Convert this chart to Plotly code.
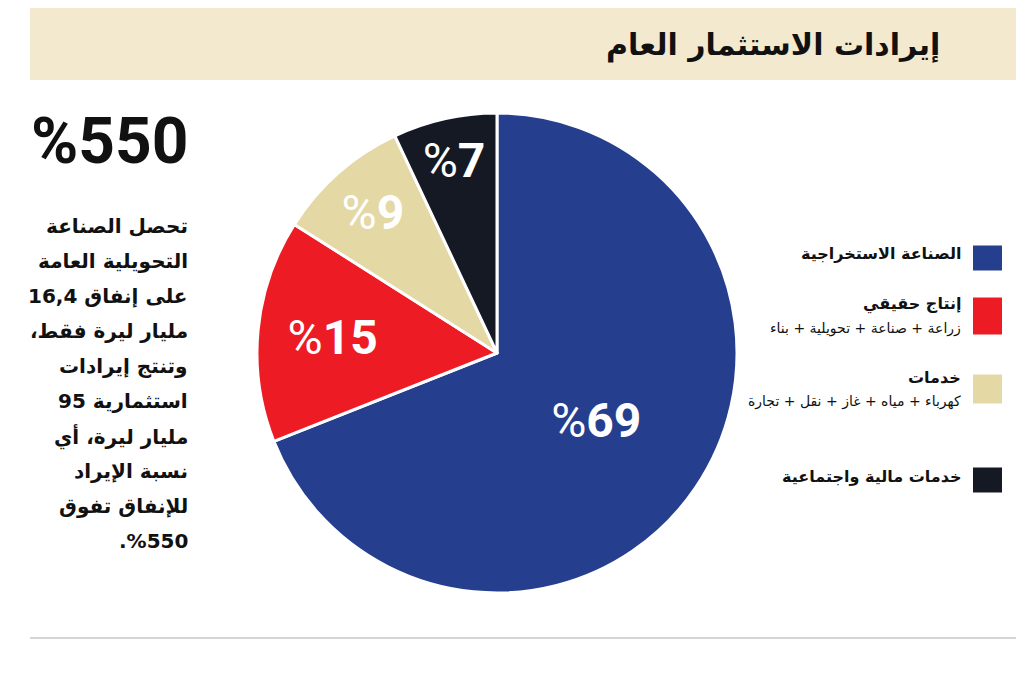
import plotly.graph_objects as go

# data
sectors = ["الصناعة الاستخراجية", "إنتاج حقيقي", "خدمات", "خدمات مالية واجتماعية"]
sector_notes = ["", "زراعة + صناعة + تحويلية + بناء", "كهرباء + مياه + غاز + نقل + تجارة", ""]
shares = [69, 15, 9, 7]
colors = ["#253F8E", "#ED1C24", "#E4D8A5", "#151924"]

title_text = "إيرادات الاستثمار العام"
headline = "%550"
body_lines = [
    "تحصل الصناعة",
    "التحويلية العامة",
    "على إنفاق 16,4",
    "مليار ليرة فقط،\u200f",
    "وتنتج إيرادات",
    "استثمارية 95",
    "مليار ليرة، أي",
    "نسبة الإيراد",
    "للإنفاق تفوق",
    ".%550",
]

AR_FONT = "DejaVu Sans, Noto Sans, sans-serif"
NUM_FONT = "Roboto, Liberation Sans, sans-serif"

# the page puts the figure 8px in from the top-left corner
OFF = 8
W, H = 1024 - OFF, 685 - 2 * OFF


def px(x):
    return (x - OFF) / W


def py(y):
    return 1 - (y - OFF) / H


fig = go.Figure()

fig.add_trace(go.Pie(
    labels=sectors,
    values=shares,
    text=["<span style='font-weight:normal'>%</span>" + str(v) for v in shares],
    texttemplate="%{text}",
    textposition="inside",
    insidetextorientation="horizontal",
    textfont=dict(family=NUM_FONT, size=48, color="white", weight="bold"),
    marker=dict(colors=colors, line=dict(color="white", width=3)),
    sort=False,
    direction="clockwise",
    rotation=0,
    domain=dict(x=[px(257), px(737)], y=[py(593), py(113)]),
    hoverinfo="label+percent",
    showlegend=False,
))

shapes = [
    # header band
    dict(type="rect", xref="paper", yref="paper", x0=px(30), x1=1, y0=py(80), y1=py(5),
         fillcolor="#F2E9CF", line=dict(width=0), layer="below"),
    # bottom rule
    dict(type="line", xref="paper", yref="paper", x0=px(30), x1=1, y0=py(638), y1=py(638),
         line=dict(color="#A8A8A8", width=1)),
]

annotations = [
    dict(text="<b>" + title_text + "</b>", xref="paper", yref="paper",
         x=px(942), y=py(45), xanchor="right", yanchor="middle", showarrow=False,
         font=dict(family=AR_FONT, size=30, color="#111111")),
    dict(text=headline, xref="paper", yref="paper",
         x=px(190), y=py(141), xanchor="right", yanchor="middle", showarrow=False,
         font=dict(family=NUM_FONT, size=64, color="#111111", weight="bold")),
]

# side paragraph, one line per annotation
for i, line in enumerate(body_lines):
    annotations.append(dict(text="<b>" + line + "</b>", xref="paper", yref="paper",
                            x=px(190), y=py(226 + i * 35), xanchor="right", yanchor="middle",
                            showarrow=False,
                            font=dict(family=AR_FONT, size=20, color="#111111")))

# legend drawn by hand: swatch on the right, text to its left
swatch_y = [258, 316, 389, 480]
swatch_h = [25, 37, 29, 25]
for i, name in enumerate(sectors):
    yc = swatch_y[i]
    shapes.append(dict(type="rect", xref="paper", yref="paper",
                       x0=px(973), x1=px(1002),
                       y0=py(yc + swatch_h[i] / 2), y1=py(yc - swatch_h[i] / 2),
                       fillcolor=colors[i], line=dict(width=0)))
    if sector_notes[i]:
        annotations.append(dict(text="<b>" + name + "</b>", xref="paper", yref="paper",
                                x=px(963), y=py(yc - 12), xanchor="right", yanchor="middle",
                                showarrow=False, font=dict(family=AR_FONT, size=16, color="#111111")))
        annotations.append(dict(text=sector_notes[i], xref="paper", yref="paper",
                                x=px(963), y=py(yc + 12), xanchor="right", yanchor="middle",
                                showarrow=False, font=dict(family=AR_FONT, size=14, color="#111111")))
    else:
        annotations.append(dict(text="<b>" + name + "</b>", xref="paper", yref="paper",
                                x=px(963), y=py(yc - 4), xanchor="right", yanchor="middle",
                                showarrow=False, font=dict(family=AR_FONT, size=16, color="#111111")))

fig.update_layout(
    width=W,
    height=H,
    margin=dict(l=0, r=0, t=0, b=0),
    paper_bgcolor="white",
    plot_bgcolor="white",
    shapes=shapes,
    annotations=annotations,
    uniformtext=dict(minsize=30, mode="show"),
)

fig.write_html("out.html")
